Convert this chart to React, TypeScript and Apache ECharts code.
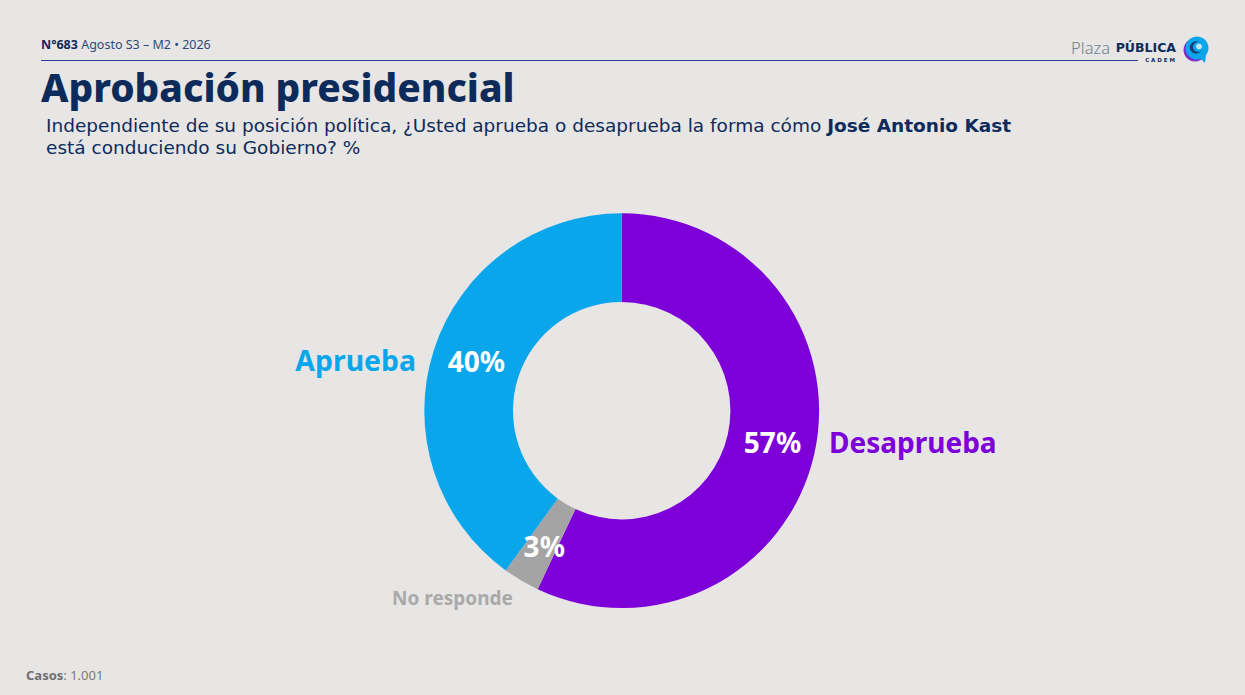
import React, { useEffect, useRef } from "react";
import * as echarts from "echarts";

// ---- data ----
const categories = ["Desaprueba", "No responde", "Aprueba"];
const values = [57, 3, 40];
const headerNumber = "N°683";
const headerRest = " Agosto S3 – M2 • 2026";
const titleText = "Aprobación presidencial";
const subtitleLine1 = "Independiente de su posición política, ¿Usted aprueba o desaprueba la forma cómo ";
const subtitleBold = "José Antonio Kast";
const subtitleLine2 = "está conduciendo su Gobierno? %";
const casosLabel = "Casos";
const casosValue = "1.001";

// ---- styles ----
const FONT = "'Noto Sans', sans-serif";
const FONT2 = "'DejaVu Sans', sans-serif";
const BG = "#E8E6E4";
const NAVY = "#0C2B5B";
const sliceStyle: Record<string, { color: string; nameColor: string; align: string; x: number; y: number; size: number; valOffset: number[] }> = {
  Desaprueba: { color: "#7D00D9", nameColor: "#7D00D9", align: "left", x: 829, y: 442, size: 28, valOffset: [-1.5, -3] },
  "No responde": { color: "#A4A4A4", nameColor: "#A9A9A9", align: "center", x: 452.5, y: 598, size: 19, valOffset: [2, 1] },
  Aprueba: { color: "#0AA6EC", nameColor: "#0AA6EC", align: "right", x: 416, y: 360, size: 28.4, valOffset: [3, -1] },
};

export default function App() {
  const ref = useRef<HTMLDivElement>(null);
  useEffect(() => {
    document.body.style.margin = "0";
    document.body.style.background = BG;
    const chart = echarts.init(ref.current!, null, { renderer: "svg" });
    const center = [621.7, 410.7];
    const radius = [108.7, 197.4];
    const valueData = categories.map((c, i) => ({
      name: c,
      value: values[i],
      itemStyle: { color: sliceStyle[c].color },
      label: { offset: sliceStyle[c].valOffset },
    }));
    const nameTexts = categories.map((c) => ({
      type: "text",
      x: sliceStyle[c].x,
      y: sliceStyle[c].y,
      style: {
        text: c,
        fontFamily: FONT,
        fontWeight: "bold",
        fontSize: sliceStyle[c].size,
        fill: sliceStyle[c].nameColor,
        align: sliceStyle[c].align,
        verticalAlign: "middle",
      },
    }));
    chart.setOption({
      animation: false,
      backgroundColor: BG,
      series: [
        {
          type: "pie",
          center,
          radius,
          startAngle: 90,
          clockwise: true,
          silent: true,
          avoidLabelOverlap: false,
          label: {
            show: true,
            position: "inside",
            formatter: "{c}%",
            color: "#FFFFFF",
            fontFamily: FONT,
            fontWeight: "bold",
            fontSize: 28,
          },
          labelLine: { show: false },
          itemStyle: { borderWidth: 0 },
          emphasis: { disabled: true },
          data: valueData,
        },
      ],
      graphic: [
        ...nameTexts,
        {
          type: "text",
          left: 41,
          top: 38,
          style: {
            text: `{b|${headerNumber}}{r|${headerRest}}`,
            rich: {
              b: { fontFamily: FONT, fontSize: 12.5, fontWeight: "bold", fill: NAVY },
              r: { fontFamily: FONT, fontSize: 12.5, fill: "#2B4A7A" },
            },
          },
        },
        {
          type: "line",
          shape: { x1: 41, y1: 60.5, x2: 1138, y2: 60.5 },
          style: { stroke: "#2C3E8C", lineWidth: 1.2 },
        },
        {
          type: "text",
          left: 41,
          top: 67,
          style: { text: titleText, fontFamily: FONT, fontSize: 38.8, fontWeight: 800, fill: NAVY },
        },
        {
          type: "text",
          x: 46,
          y: 125,
          style: {
            text: `{r|${subtitleLine1}}{b|${subtitleBold}}`,
            verticalAlign: "middle",
            rich: {
              r: { fontFamily: FONT2, fontSize: 18.5, fill: NAVY },
              b: { fontFamily: FONT2, fontSize: 18.5, fontWeight: "bold", fill: NAVY },
            },
          },
        },
        {
          type: "text",
          x: 46,
          y: 147,
          style: {
            text: subtitleLine2,
            verticalAlign: "middle",
            fontFamily: FONT2,
            fontSize: 18.5,
            fill: NAVY,
          },
        },
        {
          type: "text",
          left: 26,
          top: 668,
          style: {
            text: `{b|${casosLabel}}{r|: ${casosValue}}`,
            rich: {
              b: { fontFamily: FONT, fontSize: 13, fontWeight: "bold", fill: "#6E6E6E" },
              r: { fontFamily: FONT, fontSize: 13, fill: "#7A7A7A" },
            },
          },
        },
        {
          type: "text",
          x: 1110,
          y: 47,
          style: {
            text: "Plaza",
            align: "right",
            verticalAlign: "middle",
            fontFamily: FONT,
            fontSize: 16.5,
            fill: "#6F7E90",
            fontWeight: 300,
          },
        },
        {
          type: "text",
          x: 1176,
          y: 47,
          style: {
            text: "PÚBLICA",
            align: "right",
            verticalAlign: "middle",
            fontFamily: FONT2,
            fontSize: 12.5,
            fontWeight: "bold",
            fill: NAVY,
          },
        },
        {
          type: "text",
          x: 1160,
          y: 59.5,
          style: {
            text: "C A D E M",
            fontFamily: FONT2,
            fontSize: 5.5,
            fontWeight: "bold",
            fill: NAVY,
            align: "center",
            verticalAlign: "middle",
          },
        },
        {
          type: "group",
          children: [
            { type: "circle", shape: { cx: 1195, cy: 50, r: 11.5 }, style: { fill: "#7D2FC8" } },
            { type: "circle", shape: { cx: 1197, cy: 48, r: 11.5 }, style: { fill: "#0AA6EC" } },
            { type: "circle", shape: { cx: 1196, cy: 47.5, r: 6.2 }, style: { fill: "#1B3A78" } },
            { type: "circle", shape: { cx: 1198, cy: 47, r: 5 }, style: { fill: "#0AA6EC" } },
            { type: "circle", shape: { cx: 1199, cy: 46.5, r: 3 }, style: { fill: "#BFE6F8" } },
            {
              type: "polygon",
              shape: { points: [[1199, 57], [1206, 55], [1205, 63]] },
              style: { fill: "#0AA6EC" },
            },
          ],
        },
      ],
    });
    return () => chart.dispose();
  }, []);
  return <div ref={ref} style={{ position: "absolute", left: 0, top: 0, width: 1245, height: 695 }} />;
}
